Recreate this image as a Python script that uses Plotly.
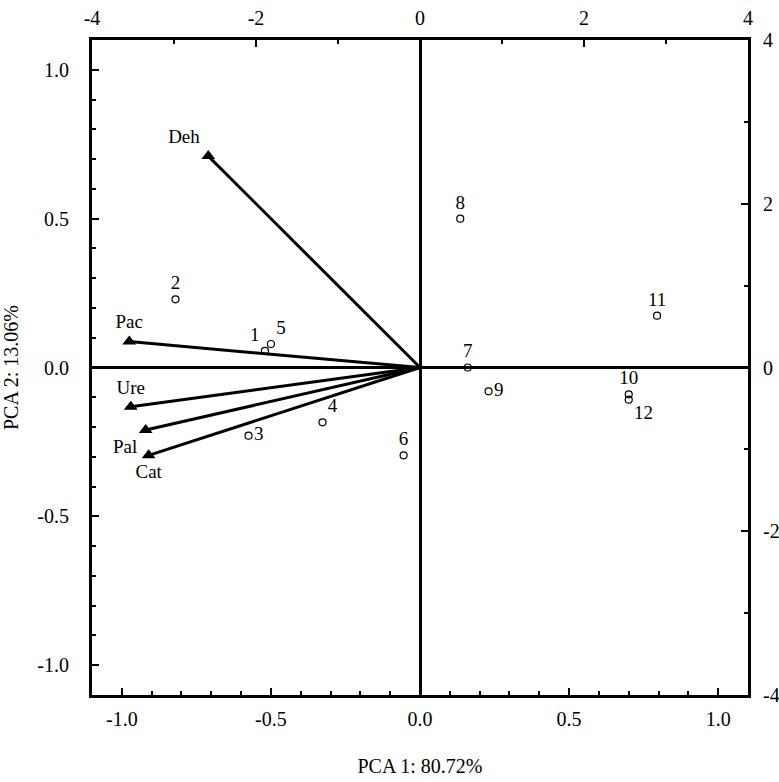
import plotly.graph_objects as go

# Variable loadings (arrows)
var_names = ["Deh", "Pac", "Ure", "Pal", "Cat"]
var_x = [-0.71, -0.975, -0.97, -0.92, -0.91]
var_y = [0.71, 0.087, -0.132, -0.21, -0.295]
var_textpos = ["top left", "top center", "top center", "bottom left", "bottom center"]

# Case scores (points)
case_names = ["1", "2", "3", "4", "5", "6", "7", "8", "9", "10", "11", "12"]
case_x = [-0.52, -0.82, -0.575, -0.327, -0.50, -0.055, 0.16, 0.135, 0.23, 0.70, 0.795, 0.70]
case_y = [0.056, 0.229, -0.229, -0.184, 0.079, -0.295, 0.0, 0.50, -0.08, -0.09, 0.174, -0.108]
case_textpos = ["top left", "top center", "middle right", "top right", "top right", "top center",
                "top center", "top center", "middle right", "top center", "top center", "bottom right"]

# Tick labels
loading_ticks = [-1.0, -0.5, 0.0, 0.5, 1.0]
loading_labels = ["-1.0", "-0.5", "0.0", "0.5", "1.0"]
score_ticks = [-4, -2, 0, 2, 4]
score_labels = ["-4", "-2", "0", "2", "4"]

font_family = "Liberation Serif"

# Arrow lines from origin
lx, ly = [], []
for x, y in zip(var_x, var_y):
    lx += [0, x, None]
    ly += [0, y, None]

fig = go.Figure()
fig.add_trace(go.Scatter(x=lx, y=ly, mode="lines", line=dict(color="black", width=3),
                         hoverinfo="skip", showlegend=False))
fig.add_trace(go.Scatter(x=var_x, y=var_y, mode="markers+text", text=var_names,
                         textposition=var_textpos,
                         textfont=dict(family=font_family, size=19, color="black"),
                         marker=dict(symbol="triangle-up", size=12, color="black"),
                         showlegend=False))
fig.add_trace(go.Scatter(x=case_x, y=case_y, mode="markers+text", text=case_names,
                         textposition=case_textpos,
                         textfont=dict(family=font_family, size=19, color="black"),
                         marker=dict(symbol="circle-open", size=7, color="black",
                                     line=dict(width=1.2, color="black")),
                         showlegend=False))
# invisible trace for secondary axes
fig.add_trace(go.Scatter(x=[0], y=[0], xaxis="x2", yaxis="y2", mode="markers",
                         marker=dict(opacity=0), hoverinfo="skip", showlegend=False))

axis_common = dict(showgrid=False, showline=True, linecolor="black", linewidth=3,
                   ticks="inside", tickcolor="black", tickwidth=2, automargin=False,
                   tickfont=dict(family=font_family, size=20, color="black"))

fig.update_layout(
    width=779, height=782,
    margin=dict(l=92, r=31, t=40, b=87),
    plot_bgcolor="white", paper_bgcolor="white",
    xaxis=dict(range=[-1.1, 1.1], tickvals=loading_ticks, ticktext=loading_labels, ticklen=7,
               minor=dict(dtick=0.1, tick0=0, ticklen=4, ticks="inside", tickcolor="black", tickwidth=2),
               zeroline=True, zerolinecolor="black", zerolinewidth=3,
               title=dict(text="PCA 1: 80.72%", font=dict(family=font_family, size=20, color="black"),
                          standoff=30),
               ticklabelstandoff=4,
               **axis_common),
    yaxis=dict(range=[-1.1, 1.1], tickvals=loading_ticks, ticktext=loading_labels, ticklen=7,
               minor=dict(dtick=0.1, tick0=0, ticklen=4, ticks="inside", tickcolor="black", tickwidth=2),
               zeroline=True, zerolinecolor="black", zerolinewidth=3,
               title=dict(text="PCA 2: 13.06%", font=dict(family=font_family, size=20, color="black"),
                          standoff=14),
               ticklabelstandoff=16,
               **axis_common),
    xaxis2=dict(range=[-4, 4], overlaying="x", side="top", tickvals=score_ticks, ticktext=score_labels,
                ticklen=7, ticklabelstandoff=4,
                minor=dict(dtick=1, tick0=0, ticklen=4, ticks="inside", tickcolor="black", tickwidth=2),
                zeroline=False, **axis_common),
    yaxis2=dict(range=[-4, 4], overlaying="y", side="right", tickvals=score_ticks, ticktext=score_labels,
                ticklen=7, ticklabelstandoff=8,
                minor=dict(dtick=1, tick0=0, ticklen=4, ticks="inside", tickcolor="black", tickwidth=2),
                zeroline=False, **axis_common),
)

fig.write_html("out.html", config={"displayModeBar": False},
               post_script="document.body.style.margin='0';document.body.style.overflow='hidden';")
